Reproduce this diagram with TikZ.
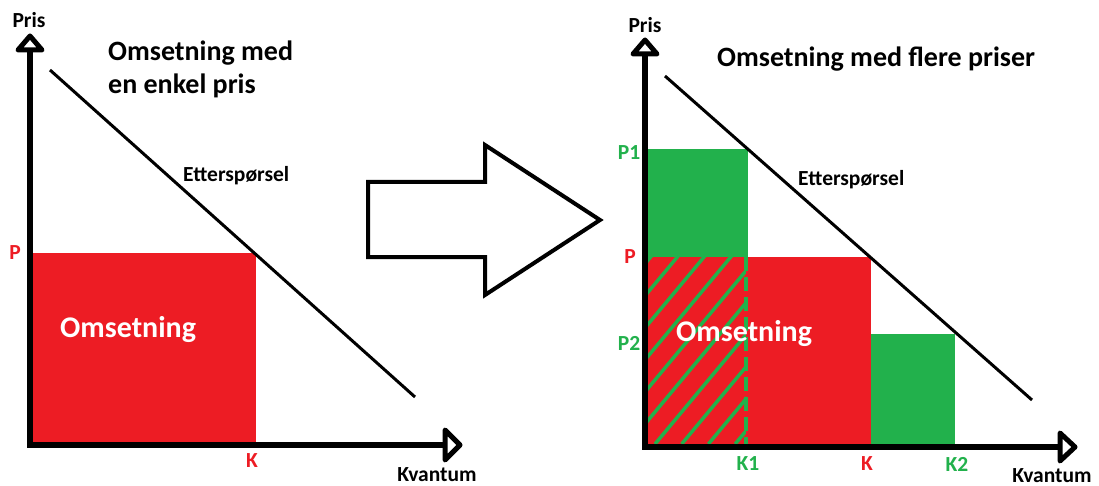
\documentclass[tikz,border=0pt]{standalone}
\usepackage{fontspec}
\setmainfont{Carlito}
\definecolor{pred}{HTML}{ED1C24}
\definecolor{pgreen}{HTML}{22B14C}
\tikzset{
  axis/.style={line width=6pt, line cap=rect},
  axhead/.style={line width=5pt, line join=round, fill=white},
  demand/.style={line width=3pt},
  lbl/.style={font=\bfseries\fontsize{21.5}{24}\selectfont, inner sep=0pt},
  ttl/.style={font=\bfseries\fontsize{28}{33}\selectfont, inner sep=0pt},
  inlbl/.style={font=\bfseries\fontsize{30}{32}\selectfont, inner sep=0pt, text=white},
  hatch/.style={pgreen, line width=3.5pt},
}
\begin{document}
\begin{tikzpicture}[x=1pt,y=-1pt]
\useasboundingbox (0,0) rectangle (1099,486);
% ---------- left chart ----------
\fill[pred] (33,253) rectangle (256,442);
\coordinate (lo) at (30,445);
\coordinate (ly) at (30,50);
\coordinate (lx) at (445,445);
\draw[axis] (lo) -- (ly);
\draw[axis] (lo) -- (lx);
\draw[axhead] (30,36) -- (42,50) -- (18,50) -- cycle;
\draw[axhead] (445,430) -- (460,445) -- (445,460) -- cycle;
\coordinate (ld1) at (50,70);
\coordinate (ld2) at (415,397);
\draw[demand] (ld1) -- (ld2);
\node[lbl] (lpris) at (29,20) {Pris};
\node[lbl, anchor=base] (lkv) at (437,481) {Kvantum};
\node[lbl, text=pred] (lp) at (15,253) {P};
\node[lbl, text=pred] (lk) at (252,461) {K};
\node[lbl, anchor=base west] (letter) at (183,182) {Etterspørsel};
\node[ttl, anchor=base west] (ltitle1) at (108,61) {Omsetning med};
\node[ttl, anchor=base west] (ltitle2) at (108,94) {en enkel pris};
\node[inlbl, anchor=base west] (loms) at (60,337) {Omsetning};
% ---------- big arrow ----------
\draw[line width=4pt, line join=miter] (368,182) -- (485,182) -- (485,145) -- (600,220) -- (485,295) -- (485,257) -- (368,257) -- cycle;
% ---------- right chart ----------
\fill[pgreen] (648,149) rectangle (748,257);
\fill[pred] (648,257) rectangle (871,444);
\fill[pgreen] (871,334) rectangle (955,444);
\begin{scope}
  \clip (648,257) rectangle (746,444);
  \foreach \k in {-7,...,4} {
    \draw[hatch] ({655+26.7*\k},444) -- ({655+26.7*\k+160},252);
  }
\end{scope}
\coordinate (kd1) at (746,257);
\coordinate (kd2) at (746,444);
\draw[pgreen, line width=3.5pt, dash pattern=on 14pt off 6pt] (kd1) -- (kd2);
\coordinate (ro) at (645,447);
\coordinate (ry) at (645,54);
\coordinate (rx) at (1060,447);
\draw[axis] (ro) -- (ry);
\draw[axis] (ro) -- (rx);
\draw[axhead] (645,40) -- (657,54) -- (633,54) -- cycle;
\draw[axhead] (1060,433) -- (1075,447) -- (1060,461) -- cycle;
\coordinate (rd1) at (665,76);
\coordinate (rd2) at (1032,400);
\draw[demand] (rd1) -- (rd2);
\node[lbl] (rpris) at (645,25) {Pris};
\node[lbl, anchor=base] (rkv) at (1052,482) {Kvantum};
\node[lbl, text=pgreen] (rp1) at (629,153) {P1};
\node[lbl, text=pred] (rp) at (630,257) {P};
\node[lbl, text=pgreen] (rp2) at (629,343) {P2};
\node[lbl, text=pgreen] (rk1) at (748,464) {K1};
\node[lbl, text=pred] (rk) at (867,464) {K};
\node[lbl, text=pgreen] (rk2) at (957,464) {K2};
\node[lbl, anchor=base west] (retter) at (798,186) {Etterspørsel};
\node[ttl, anchor=base west] (rtitle) at (717,67) {Omsetning med flere priser};
\node[inlbl, anchor=base west] (roms) at (676,341) {Omsetning};
\end{tikzpicture}
\end{document}
